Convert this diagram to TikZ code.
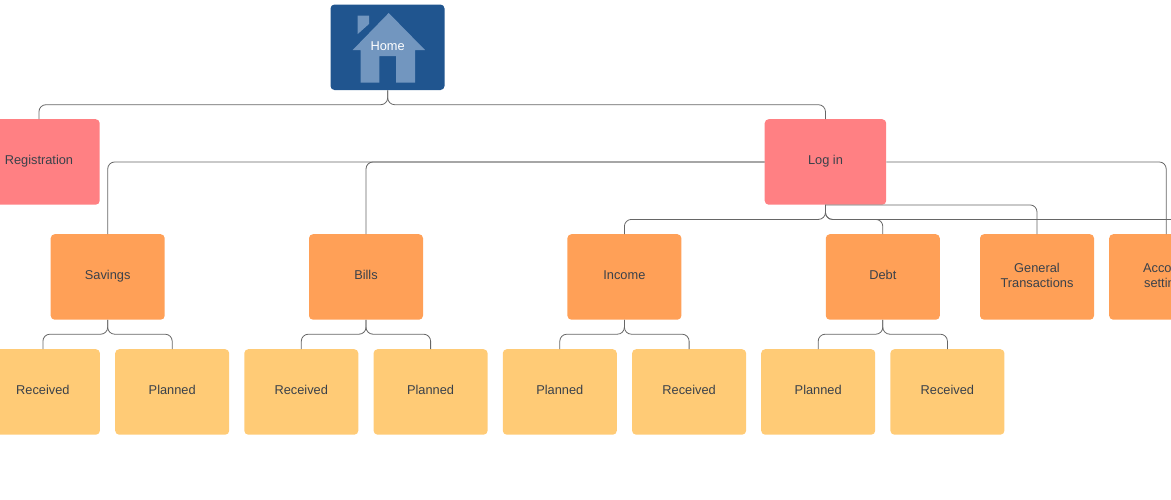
\documentclass[tikz,border=0pt]{standalone}
\usepackage{fontspec}
\setmainfont{Liberation Sans}
\definecolor{pinkbox}{HTML}{FF8083}
\definecolor{orangebox}{HTML}{FFA057}
\definecolor{yellowbox}{HTML}{FFCB76}
\definecolor{bluebox}{HTML}{20558F}
\definecolor{iconblue}{HTML}{7296BF}
\definecolor{inktext}{HTML}{3A414A}
\definecolor{wire}{HTML}{666666}
\tikzset{
  box/.style={rectangle,rounded corners=4pt,inner sep=0pt,align=center,anchor=north west,
    font=\fontsize{12.8}{15}\selectfont,text=inktext},
  homebox/.style={box,text=white,minimum width=114pt,minimum height=85.5pt},
  pinkb/.style={box,fill=pinkbox,minimum width=121.5pt,minimum height=85.5pt},
  orangeb/.style={box,fill=orangebox,minimum width=114pt,minimum height=85.5pt},
  yellowb/.style={box,fill=yellowbox,minimum width=114pt,minimum height=85.5pt},
  conn/.style={draw=wire,line width=0.8pt,rounded corners=7pt},
}
\newcommand{\lbl}[1]{\raisebox{3.2pt}{#1}}
\begin{document}
\begin{tikzpicture}[x=1pt,y=-1pt]
\useasboundingbox (0,0) rectangle (1171,499);
% home tile and its house icon
\fill[bluebox,rounded corners=4pt] (330.5,4.5) rectangle (444.5,90);
\fill[iconblue] (388.7,13) -- (425,50) -- (415,50) -- (415,82.7) -- (396,82.7) -- (396,56)
     -- (379.3,56) -- (379.3,82.7) -- (360.7,82.7) -- (360.7,50) -- (352.7,50) -- cycle;
\fill[iconblue] (357.7,15.7) -- (369,15.7) -- (369,24) -- (357.7,34) -- cycle;
\node[homebox] (home) at (330.5,4.5) {\lbl{Home}};
\node[pinkb] (reg) at (-22,119) {\lbl{Registration}};
\node[pinkb] (login) at (764.5,119) {\lbl{Log in}};
\node[orangeb] (sav) at (50.5,234) {\lbl{Savings}};
\node[orangeb] (bills) at (308.8,234) {\lbl{Bills}};
\node[orangeb] (inc) at (567.2,234) {\lbl{Income}};
\node[orangeb] (debt) at (825.6,234) {\lbl{Debt}};
\node[orangeb] (gen) at (979.8,234) {\lbl{General}\\\lbl{Transactions}};
\node[orangeb] (acc) at (1109,234) {\lbl{Account}\\\lbl{settings}};
\node[yellowb] (r1) at (-14.3,349) {\lbl{Received}};
\node[yellowb] (p1) at (115,349) {\lbl{Planned}};
\node[yellowb] (r2) at (244.1,349) {\lbl{Received}};
\node[yellowb] (p2) at (373.4,349) {\lbl{Planned}};
\node[yellowb] (p3) at (502.6,349) {\lbl{Planned}};
\node[yellowb] (r3) at (631.9,349) {\lbl{Received}};
\node[yellowb] (p4) at (761,349) {\lbl{Planned}};
\node[yellowb] (r4) at (890.2,349) {\lbl{Received}};
\coordinate (off) at ([shift={(375,14.5)}]login.south);
% top level
\draw[conn] (home.south) -- ++(0,14.3) -| (reg.north);
\draw[conn] (home.south) -- ++(0,14.3) -| (login.north);
% from log in, left side
\draw[conn] (login.west) -| (sav.north);
\draw[conn] (login.west) -| (bills.north);
% from log in, right side
\draw[conn] (login.east) -| (acc.north);
% from log in, below
\draw[conn] (login.south) -- ++(0,14.5) -| (inc.north);
\draw[conn] (login.south) -- ++(0,14.5) -| (debt.north);
\draw[conn] (login.south) -| (gen.north);
\draw[conn] (login.south) -- ++(0,14.5) -- (off);
% third level
\draw[conn] (sav.south) -- ++(0,14.3) -| (r1.north);
\draw[conn] (sav.south) -- ++(0,14.3) -| (p1.north);
\draw[conn] (bills.south) -- ++(0,14.3) -| (r2.north);
\draw[conn] (bills.south) -- ++(0,14.3) -| (p2.north);
\draw[conn] (inc.south) -- ++(0,14.3) -| (p3.north);
\draw[conn] (inc.south) -- ++(0,14.3) -| (r3.north);
\draw[conn] (debt.south) -- ++(0,14.3) -| (p4.north);
\draw[conn] (debt.south) -- ++(0,14.3) -| (r4.north);
\end{tikzpicture}
\end{document}
